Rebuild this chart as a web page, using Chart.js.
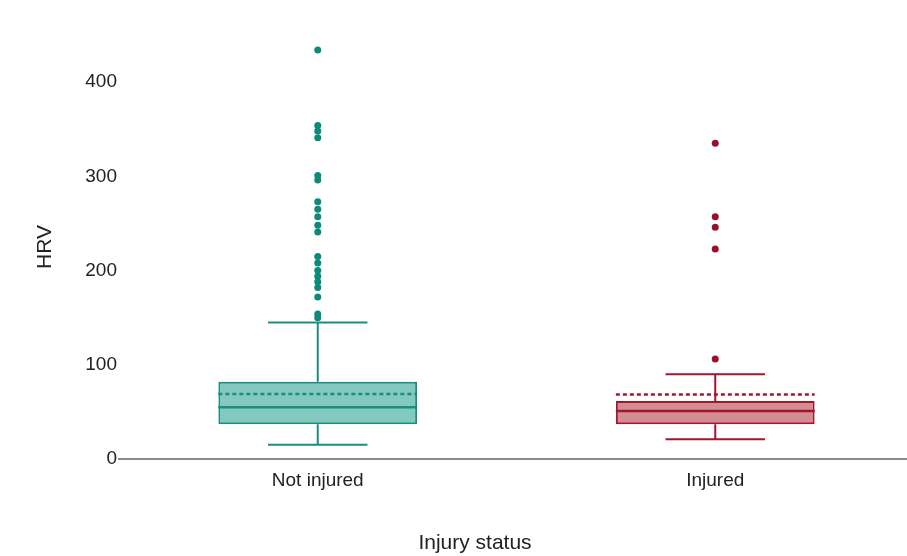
<!DOCTYPE html>
<html>
<head>
<meta charset="utf-8">
<script src="https://cdn.jsdelivr.net/npm/chart.js@4.4.1/dist/chart.umd.min.js"></script>
<style>
  html, body { margin: 0; padding: 0; background: #fff; overflow: hidden; }
  #wrap { width: 918px; height: 556px; }
</style>
</head>
<body>
<div id="wrap"><canvas id="grafica"></canvas></div>
<script>
// datos
const categories = ['Not injured', 'Injured'];
const q1 = [37, 37];
const q3 = [82, 61.5];
const medians = [55, 51];
const means = [69, 68.5];
const whiskerLow = [15, 21];
const whiskerHigh = [145, 90];
const outliersNotInjured = [434, 354, 348, 341, 301, 296, 273, 265, 257, 248, 241, 215, 208, 200, 194, 188, 182, 172, 154, 150];
const outliersInjured = [335, 257, 246, 223, 106];
const yTickValues = [0, 100, 200, 300, 400];
const xTitle = 'Injury status';
const yTitle = 'HRV';

const strokeColors = ['#1a8d7e', '#a0172f'];
const fillColors = ['rgba(110, 192, 180, 0.85)', 'rgba(205, 120, 128, 0.85)'];
const pointColors = ['#0e8a7a', '#9a0f2e'];
const fontFamily = '"Liberation Sans", Arial, sans-serif';

// dibuja bigotes, mediana y media de cada caja
const boxExtras = {
    id: 'boxExtras',
    afterDatasetsDraw(chart) {
        const ctx = chart.ctx;
        const x = chart.scales.x;
        const y = chart.scales.y;
        const meta = chart.getDatasetMeta(0);
        categories.forEach((c, i) => {
            const xc = x.getPixelForValue(i);
            const half = meta.data[i].width / 2;
            ctx.save();
            ctx.strokeStyle = strokeColors[i];
            ctx.lineWidth = 2;
            // bigotes
            ctx.beginPath();
            ctx.moveTo(xc, y.getPixelForValue(q3[i]));
            ctx.lineTo(xc, y.getPixelForValue(whiskerHigh[i]));
            ctx.moveTo(xc - half / 2, y.getPixelForValue(whiskerHigh[i]));
            ctx.lineTo(xc + half / 2, y.getPixelForValue(whiskerHigh[i]));
            ctx.moveTo(xc, y.getPixelForValue(q1[i]));
            ctx.lineTo(xc, y.getPixelForValue(whiskerLow[i]));
            ctx.moveTo(xc - half / 2, y.getPixelForValue(whiskerLow[i]));
            ctx.lineTo(xc + half / 2, y.getPixelForValue(whiskerLow[i]));
            ctx.stroke();
            // mediana
            ctx.lineWidth = 2.5;
            ctx.beginPath();
            ctx.moveTo(xc - half, y.getPixelForValue(medians[i]));
            ctx.lineTo(xc + half, y.getPixelForValue(medians[i]));
            ctx.stroke();
            // media (discontinua)
            ctx.setLineDash([4, 3]);
            ctx.beginPath();
            ctx.moveTo(xc - half, y.getPixelForValue(means[i]));
            ctx.lineTo(xc + half, y.getPixelForValue(means[i]));
            ctx.stroke();
            ctx.restore();
        });
    },
    afterDraw(chart) {
        const ctx = chart.ctx;
        ctx.save();
        ctx.fillStyle = '#222';
        ctx.font = '21px ' + fontFamily;
        ctx.textAlign = 'center';
        ctx.textBaseline = 'middle';
        ctx.fillText(xTitle, 475, 543);
        ctx.translate(45, (chart.chartArea.top + chart.chartArea.bottom) / 2);
        ctx.rotate(-Math.PI / 2);
        ctx.fillText(yTitle, 0, 0);
        ctx.restore();
    }
};

new Chart(document.getElementById('grafica'), {
    type: 'bar',
    data: {
        labels: categories,
        datasets: [
            {
                label: 'box',
                data: categories.map((c, i) => [q1[i], q3[i]]),
                backgroundColor: fillColors,
                borderColor: strokeColors,
                borderWidth: 2,
                borderSkipped: false,
                barPercentage: 0.5,
                categoryPercentage: 1,
                order: 2
            },
            {
                type: 'line',
                label: 'outliers not injured',
                data: outliersNotInjured.map(v => ({ x: categories[0], y: v })),
                showLine: false,
                pointRadius: 3.5,
                pointBackgroundColor: pointColors[0],
                pointBorderWidth: 0,
                order: 1
            },
            {
                type: 'line',
                label: 'outliers injured',
                data: outliersInjured.map(v => ({ x: categories[1], y: v })),
                showLine: false,
                pointRadius: 3.5,
                pointBackgroundColor: pointColors[1],
                pointBorderWidth: 0,
                order: 1
            }
        ]
    },
    options: {
        responsive: true,
        maintainAspectRatio: false,
        animation: false,
        layout: { padding: { top: 35, right: 0, left: 0, bottom: 0 } },
        plugins: {
            legend: { display: false },
            tooltip: { enabled: false }
        },
        scales: {
            x: {
                grid: { display: false, drawTicks: false },
                border: { display: true, color: '#8a8a8a', width: 2 },
                ticks: { color: '#222', font: { size: 19, family: fontFamily }, padding: 10 },
                afterFit(scale) { scale.height = 97; }
            },
            y: {
                min: 0,
                max: 450,
                grid: { display: false, drawTicks: false },
                border: { display: false },
                ticks: { color: '#222', font: { size: 19, family: fontFamily }, padding: 2 },
                afterBuildTicks(scale) { scale.ticks = yTickValues.map(v => ({ value: v })); },
                afterFit(scale) { scale.width = 119; }
            }
        }
    },
    plugins: [boxExtras]
});
</script>
</body>
</html>
